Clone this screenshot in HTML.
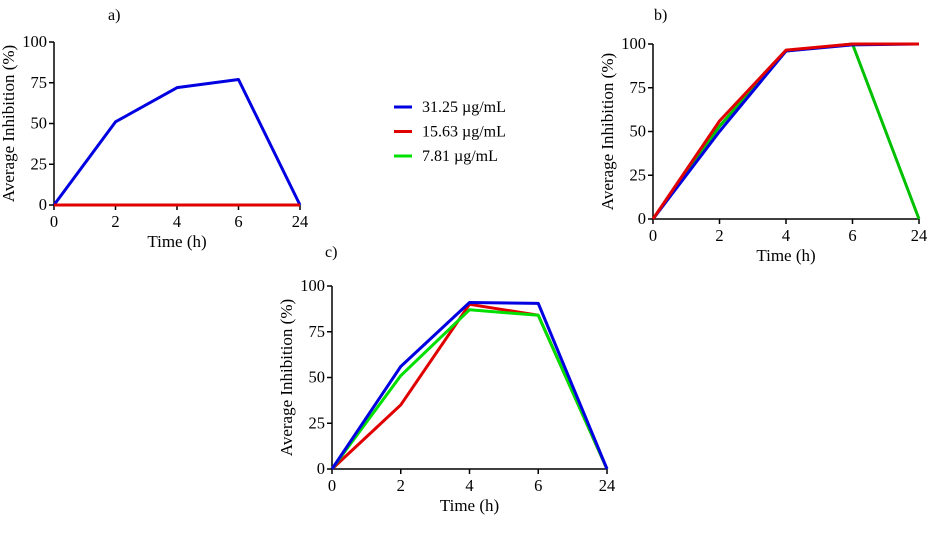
<!DOCTYPE html>
<html><head><meta charset="utf-8"><style>
body{margin:0;background:#fff;width:935px;height:529px;overflow:hidden}
svg text{font-family:"Liberation Serif",serif;fill:#000}
</style></head><body>
<svg id="c" width="935" height="529"></svg>
<script>
const categories=["0","2","4","6","24"];
const yTicks=[0,25,50,75,100];
const seriesNames=["31.25 µg/mL","15.63 µg/mL","7.81 µg/mL"];
const seriesColors=["#0000e0","#e00000","#00e000"];
const aBlue=[0,51,72,77,0];
const aRed=[0,0,0,0,0];
const aGreen=[0,0,0,0,0];
const bBlue=[0,50,96,99.5,100];
const bRed=[0,56,96.5,100,100];
const bGreen=[0,53,96,100,0];
const cBlue=[0,56,91,90.5,0];
const cRed=[0,35,90,84,0];
const cGreen=[0,51,87,84,0];

const NS="http://www.w3.org/2000/svg";
const svg=document.getElementById('c');
function el(t,a,p){const e=document.createElementNS(NS,t);for(const k in a)e.setAttribute(k,a[k]);(p||svg).appendChild(e);return e;}

function panel(id,label,lx,ly,x0,x1,y0,y1,series){
  const g=el('g',{});
  
  
  const n=categories.length;
  const xs=i=>x0+(x1-x0)*i/(n-1);
  const ys=v=>y0-(y0-y1)*v/100;
  const t=el('text',{x:lx,y:ly,'font-size':16},g);t.textContent=label;
  
  
  const ya=el('line',{x1:x0,y1:y0,x2:x0,y2:y1,stroke:'#000','stroke-width':1.5},g);
  
  
  const xa=el('line',{x1:x0,y1:y0,x2:x1,y2:y0,stroke:'#000','stroke-width':1.5},g);
  
  
  yTicks.forEach(v=>{
    el('line',{x1:x0-5,y1:ys(v),x2:x0,y2:ys(v),stroke:'#000','stroke-width':1.5},g);
    const tt=el('text',{x:x0-7,y:ys(v)+5,'font-size':16.5,'text-anchor':'end'},g);tt.textContent=v;
    
    
  });
  categories.forEach((c,i)=>{
    el('line',{x1:xs(i),y1:y0,x2:xs(i),y2:y0+5,stroke:'#000','stroke-width':1.5},g);
    const tt=el('text',{x:xs(i),y:y0+22,'font-size':16.5,'text-anchor':'middle'},g);tt.textContent=c;
    
    
  });
  const xt=el('text',{x:(x0+x1)/2,y:y0+42,'font-size':17,'text-anchor':'middle'},g);xt.textContent='Time (h)';
  
  
  const cy=(y0+y1)/2;
  const yt=el('text',{x:x0-40,y:cy,'font-size':17,'text-anchor':'middle',transform:`rotate(-90 ${x0-40} ${cy})`},g);yt.textContent='Average Inhibition (%)';
  
  
  series.forEach(s=>{
    const p=el('polyline',{points:s.d.map((v,i)=>xs(i)+','+ys(v)).join(' '),fill:'none',stroke:s.c,'stroke-width':3,'stroke-linejoin':'round'},g);
    
    
  });
}
panel('a','a)',108,20,54,300,205,42,[{d:aBlue,c:seriesColors[0],n:'31'},{d:aGreen,c:seriesColors[2],n:'7'},{d:aRed,c:seriesColors[1],n:'15'}]);
panel('b','b)',654,20,653,919,219,44,[{d:bGreen,c:'#00c000',n:'7'},{d:bBlue,c:seriesColors[0],n:'31'},{d:bRed,c:seriesColors[1],n:'15'}]);
panel('c','c)',325,257,332,607,469,286,[{d:cRed,c:seriesColors[1],n:'15'},{d:cGreen,c:seriesColors[2],n:'7'},{d:cBlue,c:seriesColors[0],n:'31'}]);

const lg=el('g',{});


seriesNames.forEach((s,i)=>{
  const y=107+i*24.5;
  el('line',{x1:394,y1:y,x2:412,y2:y,stroke:seriesColors[i],'stroke-width':3},lg);
  const t=el('text',{x:422,y:y+5,'font-size':16},lg);t.textContent=s;
  
  
});
</script>
</body></html>
